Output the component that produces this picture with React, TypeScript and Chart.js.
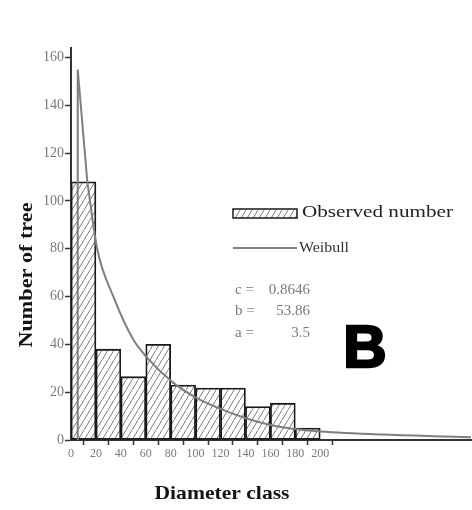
import React, { useEffect, useRef } from 'react';
import { Chart, registerables } from 'chart.js';

Chart.register(...registerables);

// ---- data ----
const classStarts = [0, 20, 40, 60, 80, 100, 120, 140, 160, 180];
const classWidth = 20;
const observed = [108, 38, 26.5, 40, 23, 21.7, 21.7, 14, 15.4, 5];
// Weibull curve (first three points form the sharp spike)
const weibullX = [5.1, 5.4, 13.1, 21, 34, 50, 61, 82, 101, 120, 141, 160, 179, 200, 250, 300, 321];
const weibullY = [0, 155, 108, 80, 60, 42, 34.5, 24, 17.5, 13, 9, 6.3, 4.6, 3.6, 2.3, 1.5, 1.2];
const spikeEnd = 3;
const xTickValues = [0, 20, 40, 60, 80, 100, 120, 140, 160, 180, 200];
const yTickValues = [0, 20, 40, 60, 80, 100, 120, 140, 160];
const seriesLabels = ['Observed number', 'Weibull'];
const paramNames = ['c =', 'b =', 'a ='];
const paramValues = ['0.8646', '53.86', '3.5'];
const panelLetter = 'B';
const xTitle = 'Diameter class';
const yTitle = 'Number of tree';

function makeHatch(): CanvasPattern | string {
  const c = document.createElement('canvas');
  c.width = 6;
  c.height = 10;
  const g = c.getContext('2d');
  if (!g) return '#ccc';
  g.fillStyle = '#ffffff';
  g.fillRect(0, 0, 6, 10);
  g.strokeStyle = '#7a7a7a';
  g.lineWidth = 1;
  g.beginPath();
  g.moveTo(-1, 11.67);
  g.lineTo(7, -1.67);
  g.stroke();
  const p = g.createPattern(c, 'repeat');
  return p || '#ccc';
}

function drawFitted(
  ctx: CanvasRenderingContext2D,
  text: string,
  x: number,
  y: number,
  font: string,
  color: string,
  width: number,
  align: 'left' | 'center',
  rotate = 0
) {
  ctx.save();
  ctx.font = font;
  ctx.fillStyle = color;
  ctx.textBaseline = 'middle';
  ctx.textAlign = 'left';
  const w = ctx.measureText(text).width;
  const s = width / w;
  ctx.translate(x, y);
  if (rotate) ctx.rotate(rotate);
  ctx.scale(s, 1);
  const start = align === 'center' ? -w / 2 : 0;
  ctx.fillText(text, start, 0);
  ctx.restore();
}

export default function App() {
  const ref = useRef<HTMLCanvasElement | null>(null);

  useEffect(() => {
    document.body.style.margin = '0';
    const canvas = ref.current;
    if (!canvas) return;
    const hatch = makeHatch();

    const barData = classStarts.map((s, i) => ({ x: s + classWidth / 2, y: observed[i] }));
    const linePts = weibullX.map((x, i) => ({ x, y: weibullY[i] }));
    const spikeData = linePts.slice(0, spikeEnd);
    const decayData = linePts.slice(spikeEnd - 1);

    const annot = {
      id: 'annot',
      afterDraw(chart: any) {
        const ctx: CanvasRenderingContext2D = chart.ctx;
        drawFitted(ctx, yTitle, 27, 275, 'bold 19px "Liberation Serif"', '#141414', 145, 'center', -Math.PI / 2);
        drawFitted(ctx, xTitle, 222, 494, 'bold 19px "Liberation Serif"', '#141414', 135, 'center');
        ctx.save();
        ctx.fillStyle = hatch as any;
        ctx.fillRect(233, 209, 64, 9);
        ctx.strokeStyle = '#1a1a1a';
        ctx.lineWidth = 1.5;
        ctx.strokeRect(233, 209, 64, 9);
        ctx.strokeStyle = '#808080';
        ctx.lineWidth = 2;
        ctx.beginPath();
        ctx.moveTo(233, 248);
        ctx.lineTo(297, 248);
        ctx.stroke();
        ctx.restore();
        drawFitted(ctx, seriesLabels[0], 302, 213, '17px "Liberation Serif"', '#222', 151, 'left');
        drawFitted(ctx, seriesLabels[1], 299, 248, '14px "Liberation Serif"', '#333', 50, 'left');
        ctx.save();
        ctx.font = '15px "Liberation Serif"';
        ctx.fillStyle = '#7a7a7a';
        ctx.textBaseline = 'middle';
        const ys = [290, 311, 333];
        paramNames.forEach((n, i) => {
          ctx.textAlign = 'left';
          ctx.fillText(n, 235, ys[i]);
          ctx.textAlign = 'right';
          ctx.fillText(paramValues[i], 310, ys[i]);
        });
        ctx.restore();
        ctx.save();
        ctx.font = 'bold 60px "Liberation Sans"';
        ctx.fillStyle = '#000';
        ctx.strokeStyle = '#000';
        ctx.lineWidth = 2.5;
        ctx.textAlign = 'center';
        ctx.textBaseline = 'middle';
        ctx.fillText(panelLetter, 365, 350);
        ctx.strokeText(panelLetter, 365, 350);
        ctx.restore();
      },
    };

    const lineStyle = {
      type: 'line',
      borderColor: '#7f7f7f',
      borderWidth: 2,
      pointRadius: 0,
      fill: false,
      order: 0,
    };

    const chart = new Chart(canvas, {
      data: {
        datasets: [
          { ...lineStyle, label: seriesLabels[1], data: spikeData, tension: 0 } as any,
          { ...lineStyle, label: seriesLabels[1], data: decayData, cubicInterpolationMode: 'monotone' } as any,
          {
            type: 'bar',
            label: seriesLabels[0],
            data: barData,
            backgroundColor: hatch as any,
            borderColor: '#1a1a1a',
            borderWidth: 1.8,
            borderSkipped: false,
            barPercentage: 1,
            categoryPercentage: 1,
            order: 1,
          } as any,
        ],
      },
      options: {
        animation: false,
        responsive: false,
        maintainAspectRatio: false,
        layout: { padding: { left: 0, top: 48, right: 1, bottom: 0 } },
        plugins: {
          legend: { display: false },
          tooltip: { enabled: false },
        },
        scales: {
          x: {
            type: 'linear',
            min: 0,
            max: 321,
            offset: false,
            grid: { drawOnChartArea: false, tickLength: 5, tickColor: '#333', tickWidth: 1.5 },
            border: { color: '#333', width: 2 },
            ticks: {
              autoSkip: false,
              maxRotation: 0,
              padding: 2,
              color: '#7a7a7a',
              font: { family: '"Liberation Serif"', size: 12 },
            },
            afterBuildTicks: (axis: any) => {
              axis.ticks = xTickValues.map((v) => ({ value: v }));
            },
            afterFit: (axis: any) => {
              axis.height = 70;
            },
          },
          y: {
            type: 'linear',
            min: 0,
            max: 164,
            grid: { drawOnChartArea: false, tickLength: 6, tickColor: '#333', tickWidth: 1.5 },
            border: { color: '#333', width: 2 },
            ticks: {
              padding: 1,
              color: '#7a7a7a',
              font: { family: '"Liberation Serif"', size: 14 },
            },
            afterBuildTicks: (axis: any) => {
              axis.ticks = yTickValues.map((v) => ({ value: v }));
            },
            afterFit: (axis: any) => {
              axis.width = 71;
            },
          },
        },
      },
      plugins: [annot],
    } as any);

    return () => chart.destroy();
  }, []);

  return (
    <div style={{ width: 472, height: 510, background: '#fff' }}>
      <canvas ref={ref} width={472} height={510} style={{ display: 'block' }} />
    </div>
  );
}
